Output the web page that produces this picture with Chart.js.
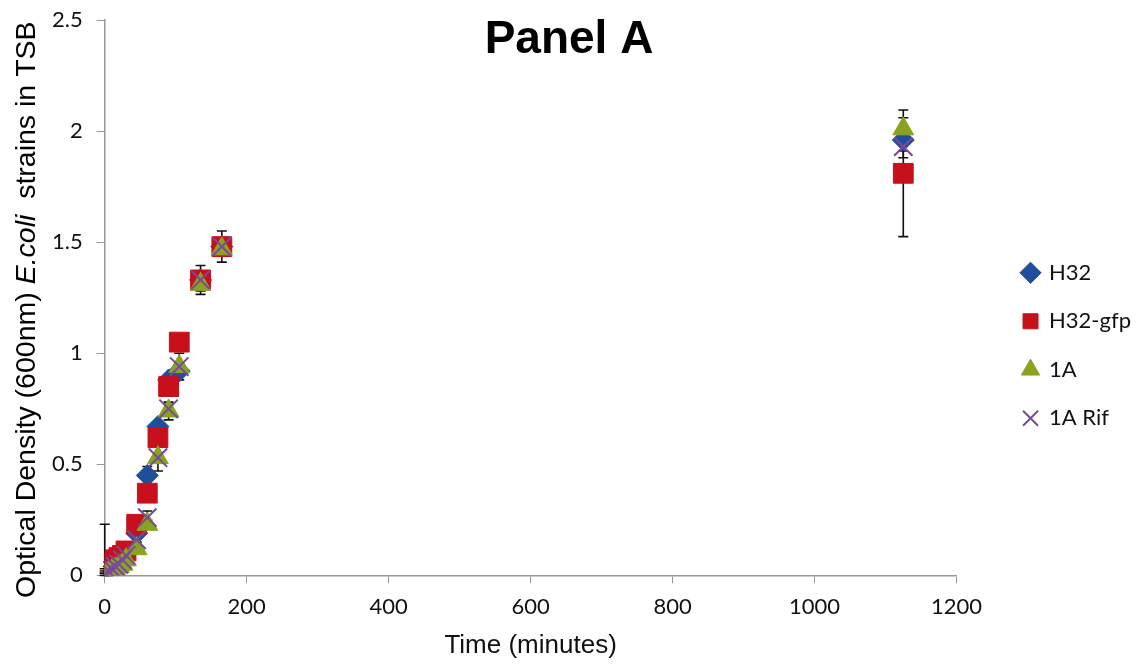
<!DOCTYPE html>
<html>
<head>
<meta charset="utf-8">
<script src="https://cdn.jsdelivr.net/npm/chart.js@4.4.0/dist/chart.umd.min.js"></script>
<style>
  html, body { margin: 0; padding: 0; background: #fff; }
  #wrap { width: 1138px; height: 664px; }
</style>
</head>
<body>
<div id="wrap"><canvas id="growth" width="1138" height="664"></canvas></div>
<script>
// sampling times (minutes)
const times = [0, 5, 10, 15, 20, 25, 30, 45, 60, 75, 90, 105, 135, 165, 1125];

// OD600 readings per strain
const h32      = [0.02, 0.03, 0.04, 0.05, 0.06, 0.08, 0.10, 0.19, 0.45, 0.67, 0.88, 0.92, 1.33, 1.48, 1.96];
const h32gfp   = [0.05, 0.05, 0.06, 0.07, 0.08, 0.09, 0.11, 0.23, 0.37, 0.62, 0.85, 1.05, 1.33, 1.48, 1.81];
const oneA     = [0.00, 0.01, 0.02, 0.03, 0.04, 0.05, 0.07, 0.12, 0.23, 0.53, 0.74, 0.94, 1.31, 1.47, 2.01];
const oneARif  = [0.01, 0.02, 0.03, 0.04, 0.05, 0.07, 0.09, 0.16, 0.26, 0.53, 0.75, 0.94, 1.33, 1.48, 1.93];

// error bar half-widths
const h32Err     = [0.01, 0.01, 0.01, 0.01, 0.01, 0.01, 0.01, 0.02, 0.04, 0.02, 0.02, 0.02, 0.03, 0.03, 0.05];
const h32gfpErr  = [0.18, 0.01, 0.01, 0.01, 0.01, 0.01, 0.01, 0.02, 0.02, 0.02, 0.02, 0.02, 0.03, 0.03, 0.285];
const oneAErr    = [0.01, 0.01, 0.01, 0.01, 0.01, 0.01, 0.01, 0.02, 0.02, 0.02, 0.04, 0.06, 0.03, 0.03, 0.05];
const oneARifErr = [0.01, 0.01, 0.01, 0.01, 0.01, 0.01, 0.01, 0.01, 0.03, 0.06, 0.02, 0.02, 0.065, 0.07, 0.05];

const xTicks = [0, 200, 400, 600, 800, 1000, 1200];
const yTicks = [0, 0.5, 1, 1.5, 2, 2.5];

function pts(vals, errs) {
  return times.map((t, i) => ({ x: t, y: vals[i], err: errs[i] }));
}

const errorBars = {
  id: 'errorBars',
  beforeDatasetsDraw(chart) {
    const { ctx, chartArea, scales: { x, y } } = chart;
    ctx.save();
    ctx.strokeStyle = '#111';
    ctx.lineWidth = 1.6;
    chart.data.datasets.forEach(ds => {
      ds.data.forEach(p => {
        if (!p.err) return;
        const px = x.getPixelForValue(p.x);
        const top = y.getPixelForValue(p.y + p.err);
        let bot = y.getPixelForValue(p.y - p.err);
        const botIn = bot <= chartArea.bottom;
        bot = Math.min(bot, chartArea.bottom);
        ctx.beginPath();
        ctx.moveTo(px, top); ctx.lineTo(px, bot);
        ctx.moveTo(px - 5, top); ctx.lineTo(px + 5, top);
        if (botIn) { ctx.moveTo(px - 5, bot); ctx.lineTo(px + 5, bot); }
        ctx.stroke();
      });
    });
    ctx.restore();
  }
};

// push the legend further right, leaving a gap after the plot like the original
const legendShift = {
  id: 'legendShift',
  afterLayout(chart) {
    const lg = chart.legend;
    lg.left += 40; lg.right += 40;
    lg.top += 5; lg.bottom += 5;
  }
};

const extraText = {
  id: 'extraText',
  afterDraw(chart) {
    const { ctx, chartArea } = chart;
    ctx.save();
    // panel title
    ctx.fillStyle = '#000';
    ctx.font = 'bold 46px "Liberation Sans", Arial, sans-serif';
    ctx.textAlign = 'center';
    ctx.textBaseline = 'middle';
    ctx.fillText('Panel A', chart.width / 2, chartArea.top + 20);

    // y axis title with italic species name
    const parts = [
      ['Optical Density (600nm) ', 'normal'],
      ['E.coli', 'italic'],
      ['  strains in TSB', 'normal']
    ];
    const size = 28.5;
    let total = 0;
    parts.forEach(p => {
      ctx.font = p[1] + ' ' + size + 'px "Liberation Sans", Arial, sans-serif';
      total += ctx.measureText(p[0]).width;
    });
    ctx.translate(27, (chartArea.top + chartArea.bottom) / 2 + 12);
    ctx.rotate(-Math.PI / 2);
    ctx.textAlign = 'left';
    let cx = -total / 2;
    parts.forEach(p => {
      ctx.font = p[1] + ' ' + size + 'px "Liberation Sans", Arial, sans-serif';
      ctx.fillText(p[0], cx, 0);
      cx += ctx.measureText(p[0]).width;
    });
    ctx.restore();
  }
};

const tickFont = { family: 'Lato', size: 22 };

new Chart(document.getElementById('growth').getContext('2d'), {
  type: 'scatter',
  data: {
    datasets: [
      { label: 'H32', data: pts(h32, h32Err), pointStyle: 'rectRot', pointRadius: 11,
        backgroundColor: '#1F4E9C', borderColor: '#1F4E9C', borderWidth: 1, order: 4 },
      { label: 'H32-gfp', data: pts(h32gfp, h32gfpErr), pointStyle: 'rect', pointRadius: 14,
        backgroundColor: '#C8101C', borderColor: '#C8101C', borderWidth: 1, order: 3 },
      { label: '1A', data: pts(oneA, oneAErr), pointStyle: 'triangle', pointRadius: 12,
        backgroundColor: '#8AA31F', borderColor: '#8AA31F', borderWidth: 1, order: 2 },
      { label: '1A Rif', data: pts(oneARif, oneARifErr), pointStyle: 'crossRot', pointRadius: 13,
        backgroundColor: '#7A4A9A', borderColor: '#7A4A9A', borderWidth: 2, order: 1 }
    ]
  },
  options: {
    responsive: false,
    animation: false,
    layout: { padding: { left: 38, top: 20, right: 37, bottom: 3 } },
    plugins: {
      tooltip: { enabled: false },
      legend: {
        position: 'right',
        labels: {
          usePointStyle: true,
          boxWidth: 15,
          boxHeight: 15,
          padding: 26.5,
          color: '#111',
          font: { family: 'Lato', size: 22 },
          sort: (a, b) => a.datasetIndex - b.datasetIndex
        }
      }
    },
    scales: {
      x: {
        type: 'linear', min: 0, max: 1200,
        afterBuildTicks: axis => { axis.ticks = xTicks.map(v => ({ value: v })); },
        ticks: { color: '#111', font: tickFont, padding: 10, callback: v => String(v) },
        grid: { display: true, drawOnChartArea: false, drawTicks: true, tickLength: 8, color: '#999' },
        border: { color: '#999', width: 1.5 },
        title: { display: true, text: 'Time (minutes)', color: '#111',
                 font: { family: 'Liberation Sans', size: 26 }, padding: { top: 0, bottom: 0 } }
      },
      y: {
        type: 'linear', min: 0, max: 2.5,
        afterBuildTicks: axis => { axis.ticks = yTicks.map(v => ({ value: v })); },
        afterFit: axis => { axis.paddingTop = 0; },
        ticks: { color: '#111', font: tickFont, padding: 14, callback: v => String(v) },
        grid: { display: true, drawOnChartArea: false, drawTicks: true, tickLength: 8, color: '#999' },
        border: { color: '#999', width: 1.5 }
      }
    }
  },
  plugins: [errorBars, legendShift, extraText]
});
</script>
</body>
</html>
